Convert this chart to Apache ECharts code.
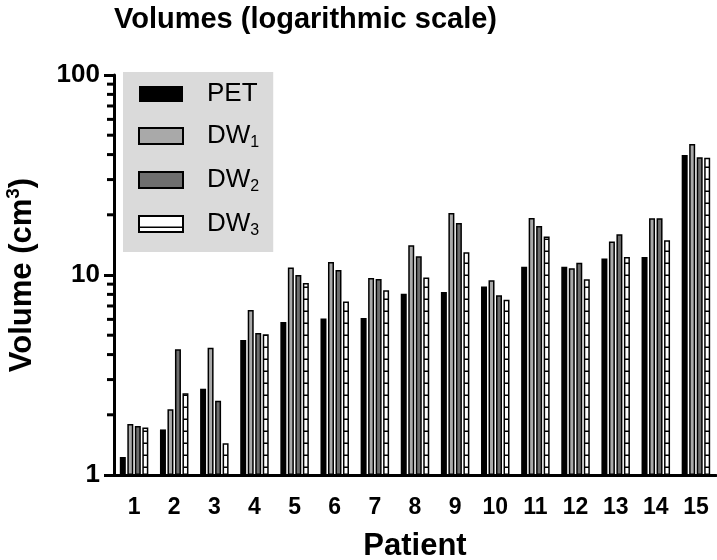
<!DOCTYPE html>
<html>
<head>
<meta charset="utf-8">
<script src="https://cdn.jsdelivr.net/npm/echarts@6/dist/echarts.min.js"></script>
<style>html,body{margin:0;padding:0;background:#fff}#c{width:717px;height:560px}</style>
</head>
<body>
<div id="c"></div>
<script>
const patients = ['1','2','3','4','5','6','7','8','9','10','11','12','13','14','15'];
const seriesNames = ['PET','DW1','DW2','DW3'];
const PET = [1.23,1.69,2.70,4.73,5.82,6.06,6.10,8.05,8.22,8.77,11.0,11.0,12.1,12.3,39.8];
const DW1 = [1.80,2.13,4.33,6.69,10.9,11.6,9.66,14.1,20.4,9.40,19.3,10.8,14.7,19.2,45.2];
const DW2 = [1.76,4.25,2.35,5.13,10.0,10.6,9.55,12.4,18.2,7.91,17.6,11.5,16.0,19.2,38.8];
const DW3 = [1.73,2.56,1.44,5.05,9.12,7.38,8.38,9.73,13.0,7.51,15.6,9.52,12.3,14.9,38.6];
const yMajorTicks = [1,10,100];
const yMinorTicks = [2,3,4,5,6,7,8,9,20,30,40,50,60,70,80,90];

const FONT = '"Liberation Sans", Arial, sans-serif';

// hatch pattern for DW3
const pc = document.createElement('canvas');
pc.width = 8; pc.height = 12;
const pctx = pc.getContext('2d');
pctx.fillStyle = '#ffffff'; pctx.fillRect(0,0,8,12);
pctx.fillStyle = '#000000'; pctx.fillRect(0,10.5,8,1.5);

const chart = echarts.init(document.getElementById('c'), null, {renderer:'canvas'});

function barSeries(name, data, color, border){
  return {
    name: name, type: 'bar', data: data,
    barWidth: 6, barGap: '25%',
    itemStyle: {color: color, borderColor: '#000', borderWidth: border}
  };
}

chart.setOption({
  animation: false,
  backgroundColor: '#fff',
  title: {
    text: 'Volumes (logarithmic scale)',
    left: 114, top: 5, padding: 0,
    textStyle: {fontFamily: FONT, fontWeight: 'bold', fontSize: 29, color: '#000'}
  },
  legend: {
    data: seriesNames,
    orient: 'vertical',
    left: 123, top: 72,
    backgroundColor: '#dadada',
    padding: [9, 14, 13, 15],
    itemWidth: 44, itemHeight: 16, itemGap: 14,
    icon: 'rect',
    formatter: function(n){ return n === 'PET' ? '{m|PET}' : '{m|DW}{s|' + n.slice(2) + '}'; },
    textStyle: {
      fontFamily: FONT, fontSize: 26, color: '#000', padding: [0,0,0,19],
      rich: {
        m: {fontFamily: FONT, fontSize: 26, lineHeight: 30, color: '#000'},
        s: {fontFamily: FONT, fontSize: 16, lineHeight: 30, color: '#000', verticalAlign: 'bottom', padding: [14,0,0,0]}
      }
    }
  },
  grid: {left: 114, right: 1, top: 75, bottom: 85, containLabel: false, outerBoundsMode: 'none'},
  xAxis: {
    type: 'category', data: patients,
    name: 'Patient', nameLocation: 'middle', nameGap: 56,
    nameTextStyle: {fontFamily: FONT, fontWeight: 'bold', fontSize: 31, color: '#000'},
    axisLine: {lineStyle: {color: '#000', width: 3}},
    axisTick: {alignWithLabel: true, length: 10, lineStyle: {color: '#000', width: 3}},
    axisLabel: {fontFamily: FONT, fontWeight: 'bold', fontSize: 23, color: '#000', margin: 21, interval: 0},
    splitLine: {show: false}
  },
  yAxis: {
    type: 'log', logBase: 10, min: 1, max: 100,
    name: '{a|Volume (cm}{s|3}{a|)}', nameLocation: 'middle', nameGap: 74,
    nameTextStyle: {
      fontFamily: FONT, fontWeight: 'bold', fontSize: 31, color: '#000',
      rich: {
        a: {fontFamily: FONT, fontWeight: 'bold', fontSize: 31, color: '#000', lineHeight: 36},
        s: {fontFamily: FONT, fontWeight: 'bold', fontSize: 19, color: '#000', lineHeight: 36, verticalAlign: 'top'}
      }
    },
    axisLine: {show: true, lineStyle: {color: '#000', width: 3}},
    axisTick: {show: true, length: 10, lineStyle: {color: '#000', width: 3}},
    axisLabel: {fontFamily: FONT, fontWeight: 'bold', fontSize: 26, color: '#000', margin: 14,
      formatter: function(v){ return yMajorTicks.indexOf(Math.round(v)) >= 0 ? String(Math.round(v)) : ''; }},
    splitLine: {show: false}
  },
  series: [
    barSeries('PET', PET, '#000000', 0),
    barSeries('DW1', DW1, '#a9a9a9', 1.5),
    barSeries('DW2', DW2, '#6e6e6e', 1.5),
    barSeries('DW3', DW3, {image: pc, repeat: 'repeat'}, 1.5),
    {
      name: 'minorTicks', type: 'custom', silent: true, clip: false,
      data: yMinorTicks.map(function(v){ return [0, v]; }),
      encode: {x: 0, y: 1},
      renderItem: function(params, api){
        const y = api.coord([0, api.value(1)])[1];
        const x0 = params.coordSys.x;
        return {type: 'line', shape: {x1: x0 - 7, y1: y, x2: x0, y2: y}, style: {stroke: '#000', lineWidth: 3}};
      }
    }
  ]
});
</script>
</body>
</html>
